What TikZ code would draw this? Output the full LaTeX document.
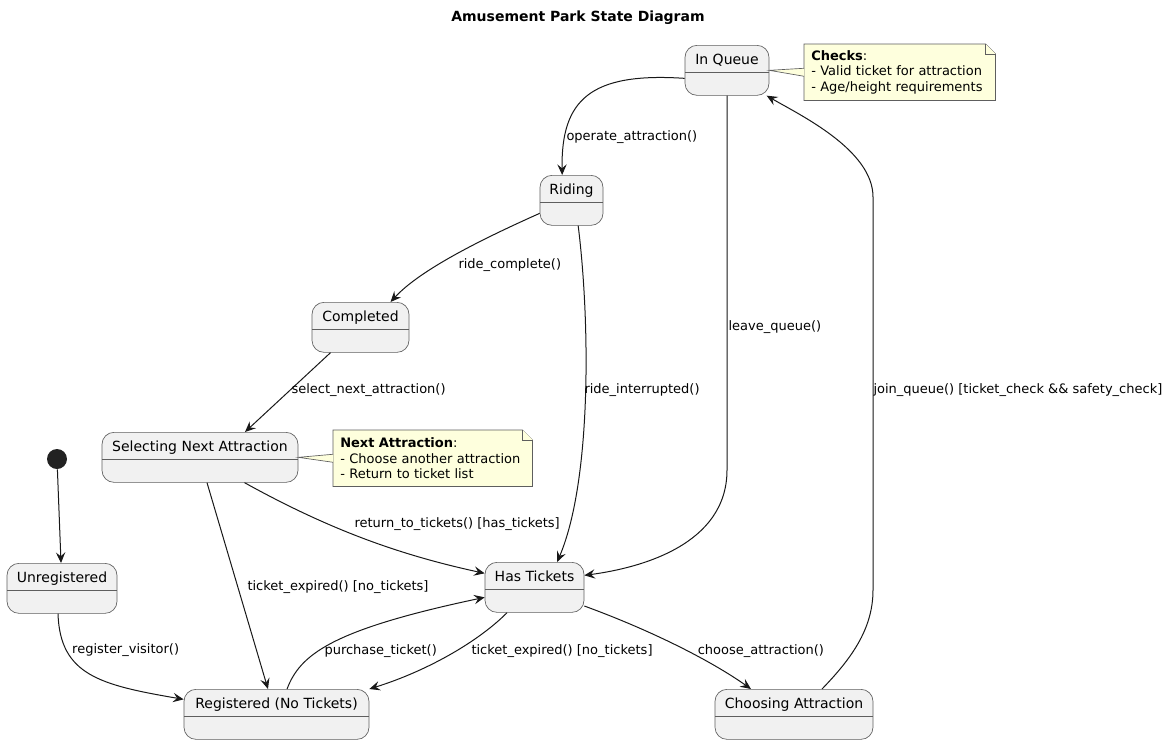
\documentclass[tikz,border=0pt]{standalone}
\usepackage{fontspec}
\setmainfont{DejaVu Sans}
\usetikzlibrary{arrows.meta,backgrounds}
\definecolor{statefill}{HTML}{F1F1F1}
\definecolor{inkline}{HTML}{181818}
\definecolor{boxline}{HTML}{5E5E5E}
\definecolor{notefill}{HTML}{FEFFDD}
\definecolor{initfill}{HTML}{222222}
\tikzset{
  state/.style={draw=boxline, fill=statefill, line width=0.5pt, rounded corners=9pt, anchor=north,
    inner xsep=0pt, inner ysep=0pt, minimum height=37.5pt, text height=14pt, text depth=23.5pt,
    font=\fontsize{10.5}{12.6}\selectfont,
    path picture={\draw[boxline, line width=0.5pt]
      ([yshift=-20pt]path picture bounding box.north west) -- ([yshift=-20pt]path picture bounding box.north east);}},
  initdot/.style={circle, fill=initfill, minimum size=15pt, inner sep=0pt},
  heading/.style={font=\bfseries\fontsize{10.5}{12.6}\selectfont},
  note/.style={anchor=north west, align=left, inner xsep=5.25pt, inner ysep=0pt, minimum height=42pt,
    font=\fontsize{9.75}{11.5}\selectfont},
  notepaper/.style={draw=boxline, fill=notefill, line width=0.5pt},
  tr/.style={draw=inkline, line width=0.75pt, -{Stealth[length=8pt,width=7pt,inset=3pt]}},
  lbl/.style={anchor=west, inner sep=0pt, font=\fontsize{9.75}{11.5}\selectfont}
}
\newcommand\notepaper[1]{%
  \begin{scope}[on background layer]
    \draw[notepaper] (#1.north west) -- ([xshift=-7.5pt]#1.north east) -- ([yshift=-7.5pt]#1.north east)
      -- (#1.south east) -- (#1.south west) -- cycle;
    \draw[notepaper] ([xshift=-7.5pt]#1.north east) |- ([yshift=-7.5pt]#1.north east);
  \end{scope}}

\begin{document}
\begin{tikzpicture}[x=0.75pt,y=-0.75pt]
\useasboundingbox (0,0) rectangle (1170,744);
\node[heading] (title) at (578,18) {Amusement Park State Diagram};
\node[initdot] (init) at (57,459) {};
\node[state, minimum width=63pt] (queue) at (727,45) {In Queue};
\node[state, minimum width=47.25pt] (riding) at (571.5,175) {Riding};
\node[state, minimum width=72.75pt] (completed) at (360.5,302) {Completed};
\node[state, minimum width=147pt] (selecting) at (200,432) {Selecting Next Attraction};
\node[state, minimum width=82.5pt] (unreg) at (62,563) {Unregistered};
\node[state, minimum width=74.25pt] (hastix) at (534.5,562) {Has Tickets};
\node[state, minimum width=138.75pt] (registered) at (276.5,689) {Registered (No Tickets)};
\node[state, minimum width=118.5pt] (choosing) at (794,689) {Choosing Attraction};

\node[note, text width=132.75pt] (checksnote) at (804,44)
  {\textbf{Checks}:\\- Valid ticket for attraction\\- Age/height requirements};
\notepaper{checksnote}
\fill[notefill] (queue.east) -- ([yshift=3pt]checksnote.west) -- ([yshift=-3pt]checksnote.west) -- cycle;
\draw[boxline, line width=0.5pt] ([yshift=3pt]checksnote.west) -- (queue.east) -- ([yshift=-3pt]checksnote.west);
\node[note, text width=138.75pt] (nextnote) at (333,430)
  {\textbf{Next Attraction}:\\- Choose another attraction\\- Return to ticket list};
\notepaper{nextnote}
\fill[notefill] (selecting.east) -- ([yshift=3pt]nextnote.west) -- ([yshift=-3pt]nextnote.west) -- cycle;
\draw[boxline, line width=0.5pt] ([yshift=3pt]nextnote.west) -- (selecting.east) -- ([yshift=-3pt]nextnote.west);

\draw[tr] (init) -- (unreg);
\draw[tr] ([xshift=-3pt]unreg.south) .. controls (60,675) and (100,685) .. ([yshift=11.25pt]registered.west)
  node[lbl] (lregister) at (71.7,650) {register\_visitor()};
\draw[tr] ([yshift=-6pt]queue.west) .. controls (590,72) and (561,100) .. ([xshift=-7pt]riding.north)
  node[lbl] (loperate) at (566,137) {operate\_attraction()};
\draw[tr] (queue.south) -- (727,470) .. controls (727,545) and (640,568) .. ([yshift=9pt]hastix.east)
  node[lbl] (lleave) at (728,327) {leave\_queue()};
\draw[tr] ([yshift=-9.75pt]riding.west) .. controls (480,240) and (420,270) .. ([xshift=22.5pt]completed.north)
  node[lbl] (lcomplete) at (458,265) {ride\_complete()};
\draw[tr] ([xshift=5pt]riding.south) .. controls (590,320) and (592,480) .. ([xshift=17pt]hastix.north)
  node[lbl] (linterrupt) at (584,390) {ride\_interrupted()};
\draw[tr] ([xshift=-22.5pt]completed.south) -- ([xshift=33.75pt]selecting.north)
  node[lbl] (lselect) at (291,390) {select\_next\_attraction()};
\draw[tr] ([xshift=33.4pt]selecting.south) .. controls (330,530) and (400,555) .. ([yshift=10.5pt]hastix.west)
  node[lbl] (lreturn) at (354,524) {return\_to\_tickets() [has\_tickets]};
\draw[tr] ([xshift=5.25pt]selecting.south) -- ([xshift=-6.4pt]registered.north)
  node[lbl] (lexpiredA) at (247,587.5) {ticket\_expired() [no\_tickets]};
\draw[tr] ([xshift=7.9pt]registered.north) .. controls (300,655) and (330,630) .. ([yshift=-7.5pt]hastix.west)
  node[lbl] (lpurchase) at (324,650.7) {purchase\_ticket()};
\draw[tr] ([xshift=-20.6pt]hastix.south) .. controls (480,640) and (430,670) .. (registered.north east)
  node[lbl] (lexpiredB) at (471,650.7) {ticket\_expired() [no\_tickets]};
\draw[tr] ([yshift=-14pt]hastix.east) .. controls (650,630) and (710,660) .. ([xshift=-32.25pt]choosing.north)
  node[lbl] (lchoose) at (697.3,650.7) {choose\_attraction()};
\draw[tr] ([xshift=21pt]choosing.north) .. controls (850,660) and (873,630) .. (873,590) -- (873,197)
  .. controls (873,150) and (800,115) .. ([xshift=-2pt]queue.south east)
  node[lbl] (ljoin) at (873,390) {join\_queue() [ticket\_check \&\& safety\_check]};
\end{tikzpicture}
\end{document}
